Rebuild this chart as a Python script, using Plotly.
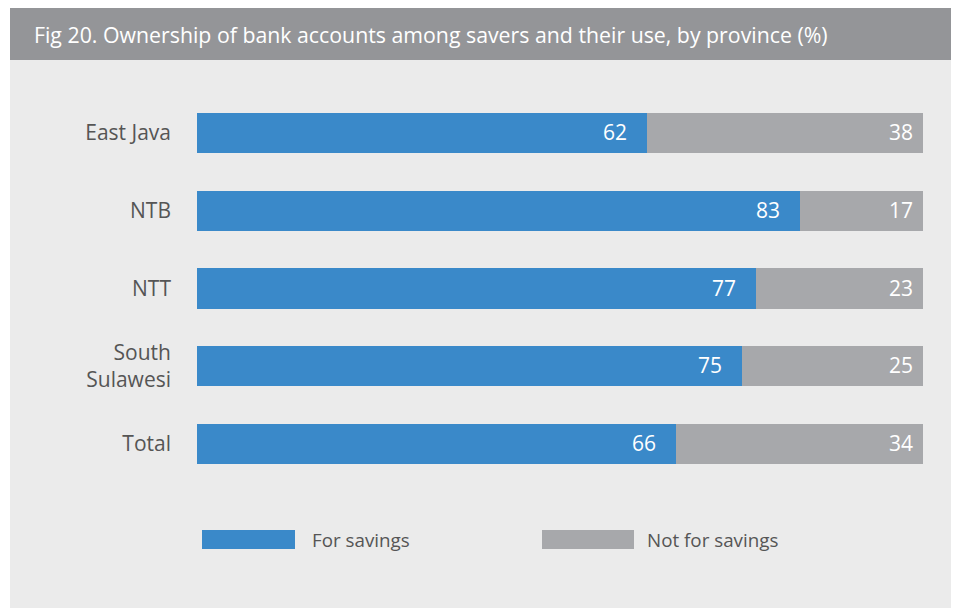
import plotly.graph_objects as go

categories = ["East Java", "NTB", "NTT", "South<br>Sulawesi", "Total"]
for_savings = [62, 83, 77, 75, 66]
not_for_savings = [38, 17, 23, 25, 34]
series_names = ["For savings", "Not for savings"]
colors = ["#3a89c9", "#a7a8ab"]
title_text = "Fig 20. Ownership of bank accounts among savers and their use, by province (%)"

# page body has an 8px margin, so the figure is drawn 8px in from the window
W, H = 951, 603
FONT = "Open Sans"
L, T, PW, PH = 189, 86, 726, 389  # plot area in figure pixels


def px(xr):
    """reference window x -> paper x"""
    return (xr - 8 - L) / PW


def py(yr):
    """reference window y -> paper y"""
    return 1 - (yr - 8 - T) / PH


fig = go.Figure()
for name, vals, col in zip(series_names, [for_savings, not_for_savings], colors):
    fig.add_trace(go.Bar(
        y=categories, x=vals, name=name, orientation="h",
        marker=dict(color=col, line=dict(width=0)),
        width=0.515, showlegend=False, hoverinfo="x+y+name",
    ))

annotations = []
for i, cat in enumerate(categories):
    ends = [for_savings[i], for_savings[i] + not_for_savings[i]]
    vals = [for_savings[i], not_for_savings[i]]
    for e, v, sh in zip(ends, vals, [-18, -8]):
        annotations.append(dict(
            x=e, y=cat, xref="x", yref="y", text=str(v), showarrow=False,
            xanchor="right", xshift=sh, yshift=1,
            font=dict(family=FONT, size=21, color="white"),
        ))

annotations.append(dict(
    x=px(32), y=py(35), xref="paper", yref="paper", text=title_text,
    showarrow=False, xanchor="left", yanchor="middle",
    font=dict(family=FONT, size=21.3, color="white"),
))

for name, tx in zip(series_names, [310, 645]):
    annotations.append(dict(
        x=px(tx), y=py(540), xref="paper", yref="paper", text=name,
        showarrow=False, xanchor="left", yanchor="middle",
        font=dict(family=FONT, size=18.8, color="#555555"),
    ))

shapes = [
    dict(type="rect", xref="paper", yref="paper", x0=px(10), x1=px(955),
         y0=py(608), y1=py(8), fillcolor="#ebebeb", line=dict(width=0), layer="below"),
    dict(type="rect", xref="paper", yref="paper", x0=px(10), x1=px(955),
         y0=py(60), y1=py(8), fillcolor="#949598", line=dict(width=0), layer="below"),
]
for (a, b), col in zip([(202, 295), (542, 634)], colors):
    shapes.append(dict(type="rect", xref="paper", yref="paper",
                       x0=px(a), x1=px(b), y0=py(549), y1=py(530),
                       fillcolor=col, line=dict(width=0)))

fig.update_layout(
    width=W, height=H, barmode="stack",
    margin=dict(l=L, r=W - L - PW, t=T, b=H - T - PH, autoexpand=False),
    paper_bgcolor="white", plot_bgcolor="rgba(0,0,0,0)",
    xaxis=dict(range=[0, 100], visible=False, fixedrange=True),
    yaxis=dict(autorange="reversed", showgrid=False, zeroline=False, showline=False,
               ticks="", ticklabelstandoff=25,
               tickfont=dict(family=FONT, size=21, color="#555555")),
    annotations=annotations, shapes=shapes,
    font=dict(family=FONT),
)

fig.write_html("out.html")
